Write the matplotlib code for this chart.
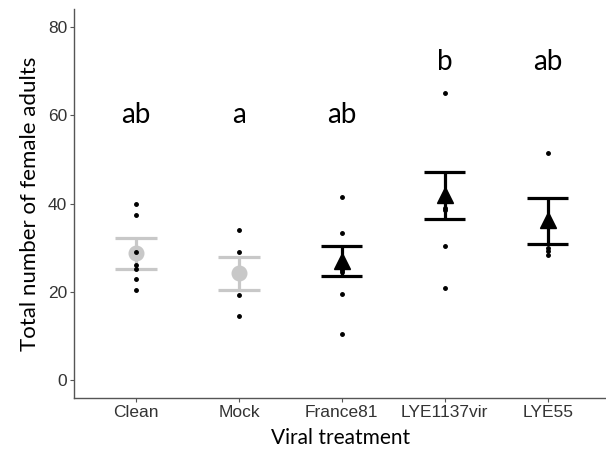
import matplotlib
matplotlib.use("Agg")
import matplotlib.pyplot as plt
import numpy as np

categories = ["Clean", "Mock", "France81", "LYE1137vir", "LYE55"]
points = [
    [40.0, 37.5, 29.0, 26.0, 25.1, 23.0, 20.5],
    [34.0, 29.0, 19.4, 14.5],
    [41.5, 33.4, 25.0, 24.5, 19.5, 10.5],
    [65.0, 39.0, 38.5, 30.4, 21.0],
    [51.5, 30.0, 29.2, 28.3],
]
means = [28.8, 24.2, 27.0, 42.0, 36.2]
err_low = [25.2, 20.5, 23.7, 36.5, 30.8]
err_high = [32.2, 28.0, 30.3, 47.2, 41.2]
letters = ["ab", "a", "ab", "b", "ab"]
letter_y = [60, 60, 60, 72, 72]
colors = ["#C8C8C8", "#C8C8C8", "black", "black", "black"]
markers = ["o", "o", "^", "^", "^"]

W, H = 606, 453
fig = plt.figure(figsize=(W / 100, H / 100), dpi=100)
ax = fig.add_axes([74.3 / W, (H - 398) / H, 1 - 74.3 / W, (398 - 9.3) / H])

x = np.arange(1, len(categories) + 1)
for i, xi in enumerate(x):
    c = colors[i]
    ax.vlines(xi, err_low[i], err_high[i], color=c, lw=2.3, zorder=2)
    ax.hlines([err_low[i], err_high[i]], xi - 0.2, xi + 0.2, color=c, lw=2.3, zorder=2)
    ms = 10.5 if markers[i] == "o" else 12
    ax.plot(xi, means[i], marker=markers[i], color=c, ms=ms, ls="none", zorder=3)
    ax.plot([xi] * len(points[i]), points[i], marker="o", color="black", ms=2.5,
            ls="none", zorder=4)
    ax.text(xi, letter_y[i], letters[i], ha="center", va="center", fontsize=20,
            family=["Lato", "DejaVu Sans"], color="black")

ax.set_xlim(0.4, 5 + (606 - 547.7) / 102.9)
ax.set_ylim(-4, 84)
ax.set_yticks([0, 20, 40, 60, 80])
ax.set_xticks(x)
ax.set_xticklabels(categories)
for lab in ax.get_xticklabels() + ax.get_yticklabels():
    lab.set_family(["Liberation Sans", "DejaVu Sans"])
    lab.set_fontsize(12.5)
    lab.set_color("#333333")

for s in ["top", "right"]:
    ax.spines[s].set_visible(False)
for s in ["left", "bottom"]:
    ax.spines[s].set_color("#555555")
    ax.spines[s].set_linewidth(1.0)
ax.tick_params(axis="both", length=3, color="#555555", width=0.8, pad=2)

ax.set_xlabel("Viral treatment", family=["Lato", "DejaVu Sans"], fontsize=15, labelpad=6)
ax.set_ylabel("Total number of female adults", family=["Lato", "DejaVu Sans"], fontsize=16,
              labelpad=6)

fig.savefig("out.png", dpi=100)
